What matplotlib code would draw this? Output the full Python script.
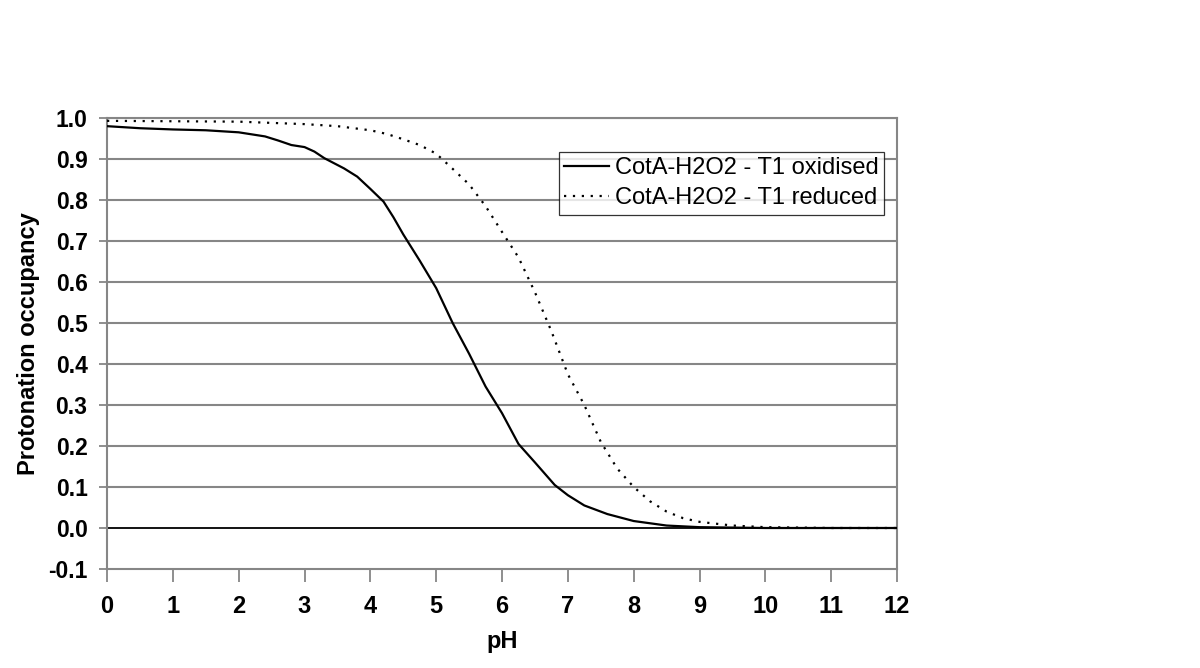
import matplotlib
matplotlib.use("Agg")
import matplotlib.pyplot as plt

plt.rcParams['font.family'] = ['Liberation Sans', 'DejaVu Sans']

ph_ox = [0, 0.5, 1, 1.5, 2, 2.4, 2.6, 2.8, 3.0, 3.15, 3.3, 3.6, 3.8, 4.0, 4.2, 4.35, 4.5,
         4.75, 5.0, 5.25, 5.5, 5.75, 6.0, 6.25, 6.5, 6.8, 7.0, 7.25, 7.6, 8.0, 8.5, 9.0,
         9.5, 10, 11, 12]
occ_ox = [0.980, 0.975, 0.972, 0.970, 0.965, 0.955, 0.945, 0.934, 0.929, 0.918, 0.902,
          0.877, 0.857, 0.827, 0.796, 0.758, 0.716, 0.652, 0.585, 0.500, 0.425, 0.345,
          0.28, 0.205, 0.16, 0.105, 0.08, 0.055, 0.034, 0.017, 0.006, 0.002, 0.001, 0.0,
          0.0, 0.0]

ph_red = [0, 1, 2, 3, 3.5, 4, 4.25, 4.5, 4.75, 5.0, 5.25, 5.5, 5.75, 6.0, 6.25, 6.5, 6.75,
          7.0, 7.25, 7.5, 7.75, 8.0, 8.25, 8.5, 8.75, 9.0, 9.5, 10, 11, 12]
occ_red = [0.993, 0.992, 0.991, 0.985, 0.980, 0.970, 0.961, 0.948, 0.934, 0.913, 0.876,
           0.838, 0.785, 0.722, 0.66, 0.575, 0.48, 0.375, 0.30, 0.21, 0.145, 0.10, 0.065,
           0.04, 0.024, 0.015, 0.006, 0.002, 0.0, 0.0]

labels = ["CotA-H2O2 - T1 oxidised", "CotA-H2O2 - T1 reduced"]
xticks = list(range(0, 13))
yticks = [round(-0.1 + 0.1 * i, 1) for i in range(12)]

fig = plt.figure(figsize=(12, 6.68), dpi=100)
ax = fig.add_axes([0.0892, 0.1482, 0.7475 - 0.0892, 0.8234 - 0.1482])

grey = '#868686'
for y in yticks:
    if y == 0.0:
        ax.axhline(y, color='black', lw=1.3, zorder=1)
    elif y > -0.05:
        ax.axhline(y, color=grey, lw=1.5, zorder=1)

ax.plot(ph_ox, occ_ox, color='black', lw=1.6, label=labels[0], zorder=3)
ax.plot(ph_red, occ_red, color='black', lw=1.6, linestyle=(0, (1, 3)), label=labels[1], zorder=3)

ax.set_xlim(0, 12)
ax.set_ylim(-0.1, 1.0)
ax.set_xticks(xticks)
ax.set_yticks(yticks)
ax.set_xticklabels([str(t) for t in xticks], fontsize=17, fontweight='bold')
ax.set_yticklabels([f"{t:.1f}" for t in yticks], fontsize=16.5, fontweight='bold')
for s in ax.spines.values():
    s.set_color(grey)
    s.set_linewidth(1.5)
ax.tick_params(axis='x', direction='out', length=9, width=1.3, color=grey, pad=10)
ax.tick_params(axis='y', direction='out', length=6, width=1.3, color=grey, pad=8)

ax.set_xlabel("pH", fontsize=17, fontweight='bold', labelpad=8)
ax.set_ylabel("Protonation occupancy", fontsize=17, fontweight='bold', labelpad=6)

leg = ax.legend(loc='upper right', bbox_to_anchor=(0.9835, 0.9246), fontsize=17,
                frameon=True, fancybox=False, handlelength=1.9, handletextpad=0.25,
                borderpad=0.22, labelspacing=0.35, borderaxespad=0)
leg.get_frame().set_edgecolor('black')
leg.get_frame().set_linewidth(0.9)

fig.savefig("out.png", dpi=100)
